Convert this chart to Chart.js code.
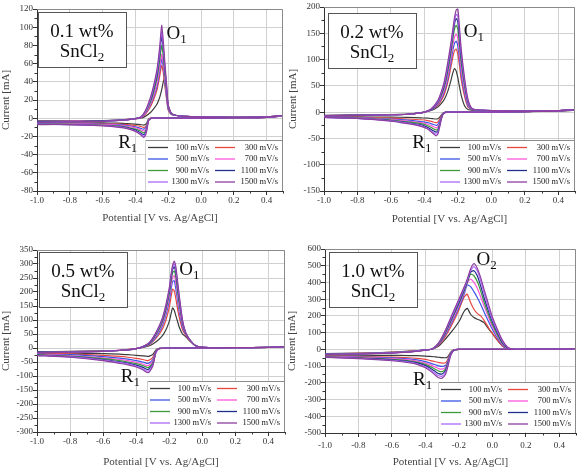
<!DOCTYPE html>
<html>
<head>
<meta charset="utf-8">
<script src="https://cdn.jsdelivr.net/npm/chart.js@4.4.1/dist/chart.umd.min.js"></script>
<style>
  html, body { margin: 0; padding: 0; background: #fff; }
  body { position: relative; width: 579px; height: 469px; overflow: hidden; }
  canvas { position: absolute; }
</style>
</head>
<body>
<canvas id="c1" width="290" height="235" style="left:0;top:0"></canvas>
<canvas id="c2" width="292" height="235" style="left:287px;top:0"></canvas>
<canvas id="c3" width="290" height="234" style="left:0;top:235px"></canvas>
<canvas id="c4" width="293" height="234" style="left:286px;top:235px"></canvas>
<script>
// scan rates, one curve each
const RATES = ['100 mV/s', '300 mV/s', '500 mV/s', '700 mV/s', '900 mV/s', '1100 mV/s', '1300 mV/s', '1500 mV/s'];
const COLORS = ['#3c3c3c', '#e8473f', '#3a55e6', '#ff55dd', '#3f9a3a', '#1f2f8a', '#ac68fa', '#8c3f9e'];

// ---- 0.1 wt% SnCl2 : potential [V] and current [mA]
const potUp01 = [-1.0, -0.8, -0.6, -0.5, -0.42, -0.37, -0.34, -0.31, -0.29, -0.27, -0.26, -0.25, -0.24, -0.23, -0.22, -0.21, -0.20, -0.18, -0.15, -0.10, 0.0, 0.2, 0.4, 0.5];
const potDn01 = [0.4, 0.2, 0.0, -0.2, -0.30, -0.32, -0.33, -0.34, -0.35, -0.37, -0.40, -0.45, -0.5, -0.6, -0.8, -1.0];
const curUp01 = [
  [-3, -3, -2.5, -2, -1, 0, 2, 6, 10, 15, 19, 24, 31, 40, 45, 30, 14, 5, 3, 2, 1.5, 1, 1.5, 2.5],
  [-3.5, -3.5, -3, -2, -1, 0.5, 4, 12, 20, 30, 38, 48, 58, 50, 35, 21, 9, 4, 3, 2, 1.5, 1, 1.5, 2.5],
  [-3.5, -3.5, -3, -2, -1, 0.5, 5, 14, 23, 34, 43, 54, 65, 56, 39, 24, 10, 4, 3, 2, 1.5, 1, 1.5, 2.5],
  [-4, -3.5, -3, -2.5, -1, 0.5, 5, 15, 25, 37, 47, 58, 70, 60, 42, 26, 11, 4.5, 3, 2, 1.5, 1, 1.5, 2.5],
  [-4, -4, -3, -2.5, -1, 1, 6, 17, 28, 42, 53, 66, 80, 68, 47, 29, 12, 4.5, 3, 2, 1.5, 1, 1.5, 3],
  [-4, -4, -3, -2.5, -1, 1, 7, 19, 31, 46, 58, 73, 90, 76, 53, 33, 13, 5, 3, 2, 1.5, 1, 1.5, 3],
  [-4.5, -4, -3.5, -2.5, -1, 1, 7, 20, 33, 49, 61, 77, 95, 80, 56, 35, 14, 5, 3, 2, 1.5, 1, 1.5, 3],
  [-4.5, -4, -3.5, -2.5, -1, 1, 8, 22, 35, 52, 65, 82, 102, 85, 60, 38, 15, 5, 3, 2, 1.5, 1, 1.5, 3]
];
const curDn01 = [
  [1, 0.5, 0, 0, 0, -1, -5, -7, -7.5, -7, -6.5, -6, -5.5, -5, -5, -5],
  [1, 0.5, 0, 0, 0, -1.5, -7, -9.5, -10, -9, -8, -7, -6.5, -6, -5.5, -5.5],
  [1, 0.5, 0, 0, 0, -2, -8, -11, -12, -11, -9.5, -8, -7, -6.5, -6, -5.5],
  [1, 0.5, 0, 0, 0, -2, -9, -13, -14, -12.5, -10.5, -9, -7.5, -7, -6, -6],
  [1, 0.5, 0, 0, 0, -2, -10, -15, -16, -14, -12, -10, -8.5, -7.5, -6.5, -6],
  [1, 0.5, 0, 0, 0, -2.5, -11, -16.5, -18, -16, -13, -10.5, -9, -8, -7, -6.5],
  [1, 0.5, 0, 0, 0, -2.5, -12, -18, -20, -17, -14, -11, -9.5, -8, -7, -6.5],
  [1, 0.5, 0, 0, 0, -3, -13, -19.5, -21, -18, -14.5, -11.5, -10, -8.5, -7, -7]
];

// ---- 0.2 wt% SnCl2
const potUp02 = [-1.0, -0.8, -0.6, -0.5, -0.44, -0.40, -0.36, -0.32, -0.30, -0.28, -0.26, -0.24, -0.23, -0.22, -0.21, -0.20, -0.19, -0.18, -0.16, -0.14, -0.12, -0.10, 0.0, 0.2, 0.4, 0.5];
const potDn02 = [0.4, 0.2, 0.0, -0.2, -0.27, -0.29, -0.30, -0.31, -0.32, -0.33, -0.35, -0.38, -0.42, -0.5, -0.6, -0.8, -1.0];
const curUp02 = [
  [-6, -5, -4.5, -3.5, -2, 0, 3, 10, 16, 25, 40, 62, 75, 83, 78, 65, 48, 32, 12, 5, 4, 3, 2, 2, 3, 4],
  [-6.5, -5.5, -5, -4, -2, 0, 4, 13, 22, 35, 57, 88, 105, 117, 120, 110, 88, 62, 30, 10, 6, 4, 2.5, 2, 3, 4.5],
  [-6.5, -5.5, -5, -4, -2, 0, 4, 15, 25, 40, 64, 98, 118, 131, 135, 126, 100, 72, 36, 12, 6, 4, 2.5, 2, 3, 4.5],
  [-7, -6, -5, -4, -2, 0, 5, 16, 28, 44, 70, 106, 128, 143, 148, 140, 112, 82, 42, 15, 7, 4.5, 3, 2, 3, 5],
  [-7, -6, -5, -4, -2, 0, 5, 18, 31, 49, 78, 116, 140, 158, 165, 158, 128, 94, 50, 18, 7, 4.5, 3, 2, 3, 5],
  [-7, -6, -5, -4, -2, 0, 5, 19, 34, 53, 84, 124, 148, 168, 178, 172, 140, 104, 56, 20, 8, 5, 3, 2, 3, 5],
  [-7, -6, -5, -4, -2, 0, 6, 20, 36, 56, 89, 129, 153, 174, 186, 182, 150, 112, 60, 22, 8, 5, 3, 2, 3, 5],
  [-7, -6, -5, -4, -2, 0, 6, 22, 38, 60, 95, 135, 158, 180, 194, 196, 160, 120, 65, 25, 8, 5, 3, 2, 3, 5]
];
const curDn02 = [
  [2, 1, 0, 0, 0, -2, -6, -10, -12.5, -13, -12.5, -11.5, -11, -10, -9.5, -9, -8.5],
  [2, 1, 0, 0, 0, -3, -8, -14, -19, -20, -18.5, -16, -14.5, -13, -11.5, -10, -9],
  [2, 1, 0, 0, 0, -3, -10, -18, -24, -25, -23, -20, -18, -15, -13, -10.5, -9],
  [2, 1, 0, 0, 0, -4, -11, -21, -28, -30, -27, -23, -20, -17, -14, -11, -9.5],
  [2, 1, 0, 0, 0, -4, -12, -24, -32, -34, -31, -26, -22, -18.5, -15, -11.5, -9.5],
  [2, 1, 0, 0, 0, -4.5, -13, -26, -36, -38, -35, -29, -24, -20, -16, -12, -10],
  [2, 1, 0, 0, 0, -5, -14, -28, -39, -42, -38, -31, -26, -21, -16.5, -12, -10],
  [2, 1, 0, 0, 0, -5, -15, -30, -42, -45, -40, -32, -27, -22, -17, -12, -10]
];

// ---- 0.5 wt% SnCl2
const potUp05 = [-1.0, -0.8, -0.6, -0.5, -0.44, -0.40, -0.36, -0.32, -0.29, -0.26, -0.24, -0.22, -0.20, -0.19, -0.18, -0.17, -0.16, -0.15, -0.14, -0.12, -0.10, -0.07, -0.04, 0.0, 0.2, 0.4, 0.5];
const potDn05 = [0.4, 0.2, 0.0, -0.2, -0.26, -0.28, -0.29, -0.30, -0.32, -0.33, -0.34, -0.36, -0.40, -0.45, -0.5, -0.6, -0.8, -1.0];
const curUp05 = [
  [-13, -12, -10, -8, -5, -2, 2, 8, 18, 32, 45, 65, 95, 120, 143, 135, 115, 95, 75, 50, 40, 22, 8, 2, 1, 2, 4],
  [-14, -13, -11, -8, -5, -2, 3, 12, 28, 50, 70, 100, 145, 180, 210, 205, 175, 140, 110, 65, 45, 23, 8, 2, 1, 2, 4],
  [-14, -13, -11, -8.5, -5.5, -2, 3, 14, 32, 58, 82, 118, 168, 205, 238, 240, 210, 170, 130, 75, 48, 24, 8, 2, 1, 2, 4.5],
  [-15, -14, -11.5, -8.5, -5.5, -2, 4, 16, 36, 64, 90, 130, 182, 222, 252, 258, 232, 190, 145, 82, 50, 24, 8, 2, 1, 2, 4.5],
  [-15, -14, -11.5, -9, -6, -2, 4, 17, 39, 69, 96, 139, 193, 236, 268, 275, 252, 205, 160, 88, 52, 25, 8, 2, 1, 2, 5],
  [-15, -14.5, -12, -9, -6, -2, 4, 18, 42, 74, 103, 146, 203, 247, 280, 290, 268, 222, 175, 94, 53, 25, 8, 2, 1, 2, 5],
  [-16, -15, -12, -9, -6, -2, 5, 19, 44, 77, 107, 151, 209, 254, 288, 300, 280, 232, 183, 97, 54, 25, 8, 2, 1, 2, 5],
  [-16, -15, -12, -9, -6, -2, 5, 20, 45, 80, 110, 155, 215, 260, 295, 310, 290, 240, 190, 100, 55, 25, 8, 2, 1, 2, 5]
];
const curDn05 = [
  [2, 1, 0, 0, -1, -6, -15, -23, -29, -30, -29, -28, -26, -24, -22, -20, -18, -17],
  [2, 1, 0, 0, -1, -9, -22, -34, -43, -45, -44, -41, -37, -33, -30, -26, -21, -19],
  [2, 1, 0, 0, -1.5, -10, -27, -42, -53, -55, -54, -50, -45, -40, -36, -31, -24, -21],
  [2, 1, 0, 0, -1.5, -11, -30, -47, -60, -63, -62, -57, -51, -45, -41, -35, -27, -23],
  [2, 1, 0, 0, -1.5, -12, -33, -53, -67, -70, -68, -63, -56, -50, -45, -38, -29, -24],
  [2, 1, 0, 0, -2, -13, -36, -58, -73, -77, -75, -69, -61, -54, -49, -41, -31, -25],
  [2, 1, 0, 0, -2, -14, -38, -62, -79, -83, -81, -74, -65, -57, -52, -43, -32, -26],
  [2, 1, 0, 0, -2, -15, -40, -65, -85, -88, -86, -78, -68, -60, -55, -45, -33, -27]
];

// ---- 1.0 wt% SnCl2
const potUp10 = [-1.0, -0.8, -0.6, -0.5, -0.44, -0.40, -0.36, -0.32, -0.28, -0.24, -0.20, -0.17, -0.15, -0.13, -0.11, -0.09, -0.07, -0.05, -0.02, 0.0, 0.03, 0.06, 0.09, 0.12, 0.2, 0.4, 0.5];
const potDn10 = [0.4, 0.2, 0.0, -0.2, -0.23, -0.25, -0.26, -0.27, -0.28, -0.30, -0.32, -0.34, -0.37, -0.40, -0.45, -0.5, -0.6, -0.8, -1.0];
const curUp10 = [
  [-25, -23, -17, -11, -7, -3, 1, 20, 62, 110, 165, 225, 245, 210, 190, 180, 172, 160, 120, 95, 55, 20, 4, 1, 1, 2, 4],
  [-26, -24, -18, -12, -7, -3, 1, 26, 78, 150, 235, 310, 330, 280, 240, 215, 200, 175, 125, 95, 55, 20, 4, 1, 1, 2, 4],
  [-27, -25, -19, -13, -8, -3, 1, 30, 88, 165, 250, 325, 385, 375, 345, 310, 270, 225, 160, 120, 68, 25, 5, 1, 1, 2, 4],
  [-28, -26, -20, -14, -8, -4, 2, 32, 95, 175, 262, 338, 395, 420, 400, 365, 315, 260, 185, 135, 78, 30, 6, 1, 1, 2, 4],
  [-28, -26, -20, -14, -9, -4, 2, 34, 100, 185, 272, 345, 400, 450, 440, 405, 350, 285, 200, 150, 88, 36, 8, 1, 1, 2, 4],
  [-29, -27, -21, -15, -9, -4, 2, 36, 105, 192, 280, 352, 405, 462, 470, 440, 380, 310, 220, 165, 100, 42, 10, 1, 1, 2, 5],
  [-30, -27, -21, -15, -9, -4, 2, 38, 110, 200, 290, 360, 412, 470, 495, 470, 410, 340, 240, 180, 110, 48, 12, 2, 1, 2, 5],
  [-30, -28, -22, -16, -10, -4, 2, 40, 115, 210, 300, 370, 420, 480, 512, 485, 430, 360, 260, 195, 120, 55, 15, 2, 1, 2, 5]
];
const curDn10 = [
  [2, 1, 0, 0, -2, -18, -35, -47, -50, -49, -47, -45, -42, -40, -38, -37, -36, -35, -35],
  [2, 1, 0, 0, -3, -22, -45, -68, -80, -82, -79, -74, -67, -60, -54, -50, -46, -43, -40],
  [2, 1, 0, 0, -3, -25, -50, -78, -96, -102, -99, -92, -82, -73, -63, -57, -51, -46, -42],
  [2, 1, 0, 0, -4, -28, -55, -85, -108, -118, -115, -106, -93, -82, -70, -63, -55, -48, -43],
  [2, 1, 0, 0, -4, -30, -60, -92, -118, -133, -130, -120, -103, -90, -76, -68, -59, -50, -45],
  [2, 1, 0, 0, -4, -32, -65, -100, -128, -147, -145, -133, -113, -97, -81, -72, -62, -52, -46],
  [2, 1, 0, 0, -5, -35, -72, -110, -140, -160, -158, -145, -122, -104, -86, -76, -65, -53, -47],
  [2, 1, 0, 0, -5, -40, -80, -120, -150, -172, -170, -155, -130, -110, -90, -80, -68, -55, -48]
];

const SERIF = '"Liberation Serif", "Times New Roman", serif';
Chart.defaults.font.family = SERIF;

function subText(ctx, x, y, main, sub, size) {
  ctx.font = size + 'px ' + SERIF;
  ctx.fillText(main, x, y);
  const w = ctx.measureText(main).width;
  ctx.font = Math.round(size * 0.68) + 'px ' + SERIF;
  ctx.fillText(sub, x + w, y + size * 0.3);
}

// frame, minor ticks, sample box, peak labels and the 2-column legend
const decor = {
  id: 'decor',
  afterDraw(chart, args, o) {
    const { ctx, chartArea: a, scales: { x, y } } = chart;
    ctx.save();
    ctx.lineWidth = 1;

    // minor ticks
    ctx.strokeStyle = '#333';
    ctx.beginPath();
    for (let i = 0; ; i++) {
      const v = x.min + (2 * i + 1) * o.minorX;
      if (v > x.max + 1e-9) break;
      const px = Math.round(x.getPixelForValue(v)) + 0.5;
      ctx.moveTo(px, a.bottom); ctx.lineTo(px, a.bottom + 2.5);
    }
    for (let i = 0; ; i++) {
      const v = y.min + (2 * i + 1) * o.minorY;
      if (v > y.max + 1e-9) break;
      const py = Math.round(y.getPixelForValue(v)) + 0.5;
      ctx.moveTo(a.left, py); ctx.lineTo(a.left - 2.5, py);
    }
    ctx.stroke();

    // legend box
    const L = a.right - 138, T = a.bottom - 51;
    ctx.fillStyle = '#fff';
    ctx.fillRect(L, T, a.right - L, a.bottom - T - 1);
    ctx.strokeStyle = '#8c8c8c';
    ctx.beginPath(); ctx.moveTo(L, T + 0.5); ctx.lineTo(a.right, T + 0.5); ctx.stroke();
    ctx.strokeStyle = '#d0d0d0';
    ctx.beginPath(); ctx.moveTo(L + 0.5, T); ctx.lineTo(L + 0.5, a.bottom); ctx.stroke();
    ctx.font = '8.5px ' + SERIF;
    ctx.textAlign = 'right';
    ctx.textBaseline = 'middle';
    RATES.forEach((name, k) => {
      const col = k % 2, row = k >> 1;
      const ly = T + 7.5 + row * 11.5;
      const lx = L + 3 + col * 67;
      ctx.strokeStyle = COLORS[k];
      ctx.lineWidth = 1.3;
      ctx.beginPath(); ctx.moveTo(lx, ly); ctx.lineTo(lx + 20, ly); ctx.stroke();
      ctx.fillStyle = '#222';
      ctx.fillText(name, lx + (col ? 63 : 61), ly);
    });
    ctx.lineWidth = 1;

    // upper and right frame
    ctx.strokeStyle = '#8a8a8a';
    ctx.beginPath();
    ctx.moveTo(a.left, a.top + 0.5); ctx.lineTo(a.right - 0.5, a.top + 0.5); ctx.lineTo(a.right - 0.5, a.bottom);
    ctx.stroke();

    // sample label box
    const bx = Math.round(a.left + o.box[0]), by = Math.round(a.top + o.box[1]);
    ctx.fillStyle = '#fff';
    ctx.fillRect(bx, by, 88, 55);
    ctx.strokeStyle = '#555';
    ctx.strokeRect(bx + 0.5, by + 0.5, 88, 55);
    ctx.fillStyle = '#111';
    ctx.textAlign = 'center';
    ctx.font = '19px ' + SERIF;
    ctx.fillText(o.label, bx + 44, by + 20);
    ctx.textAlign = 'left';
    const w1 = ctx.measureText('SnCl').width;
    ctx.font = '13px ' + SERIF;
    const w2 = ctx.measureText('2').width;
    subText(ctx, bx + 44 - (w1 + w2) / 2, by + 40, 'SnCl', '2', 19);

    // peak labels
    o.marks.forEach(m => {
      subText(ctx, x.getPixelForValue(m.x), y.getPixelForValue(m.y), m.t, m.s, 19);
    });
    ctx.restore();
  }
};

function makePanel(id, cfg) {
  const datasets = RATES.map((name, k) => ({
    label: name,
    data: cfg.up.map((v, j) => ({ x: v, y: cfg.curUp[k][j] }))
      .concat(cfg.dn.map((v, j) => ({ x: v, y: cfg.curDn[k][j] }))),
    borderColor: COLORS[k],
    borderWidth: 1.2,
    pointRadius: 0,
    showLine: true,
    tension: 0.2,
    fill: false,
    order: 7 - k
  }));
  const tickFont = { family: SERIF, size: 9 };
  const titleFont = { family: SERIF, size: 11 };
  new Chart(document.getElementById(id), {
    type: 'scatter',
    data: { datasets },
    options: {
      responsive: false,
      animation: false,
      events: [],
      layout: { padding: { top: cfg.pad[0], right: cfg.pad[1], bottom: 0, left: 0 } },
      plugins: {
        legend: { display: false },
        tooltip: { enabled: false },
        decor: { label: cfg.label, box: cfg.box, marks: cfg.marks, minorX: 0.1, minorY: cfg.step / 2 }
      },
      scales: {
        x: {
          type: 'linear', min: -1, max: 0.5,
          afterFit: s => { s.height = cfg.xH; },
          ticks: {
            stepSize: 0.2, includeBounds: false, maxRotation: 0, autoSkip: false,
            padding: cfg.xTickPad, color: '#333', font: tickFont,
            callback: v => (Math.abs(v) < 1e-9 ? '0.0' : v.toFixed(1))
          },
          grid: { color: '#d0d0d0', tickColor: '#333', tickLength: 4 },
          border: { color: '#333' },
          title: {
            display: true, text: 'Potential [V vs. Ag/AgCl]', color: '#444', font: titleFont,
            padding: { top: 0, bottom: cfg.xTitlePad }
          }
        },
        y: {
          type: 'linear', min: cfg.yMin, max: cfg.yMax,
          afterFit: s => { s.width = cfg.yW; },
          ticks: { stepSize: cfg.step, autoSkip: false, padding: 0, color: '#333', font: tickFont },
          grid: { color: '#d0d0d0', tickColor: '#333', tickLength: 4 },
          border: { color: '#333' },
          title: {
            display: true, text: 'Current [mA]', color: '#444', font: titleFont,
            padding: { top: 0, bottom: 0 }
          }
        }
      }
    },
    plugins: [decor]
  });
}

makePanel('c1', {
  label: '0.1 wt%', up: potUp01, dn: potDn01, curUp: curUp01, curDn: curDn01,
  yMin: -80, yMax: 120, step: 20,
  pad: [9, 7], yW: 37, xH: 44, xTickPad: 0, xTitlePad: 10,
  box: [1, 3],
  marks: [{ x: -0.21, y: 93, t: 'O', s: '1' }, { x: -0.505, y: -27, t: 'R', s: '1' }]
});
makePanel('c2', {
  label: '0.2 wt%', up: potUp02, dn: potDn02, curUp: curUp02, curDn: curDn02,
  yMin: -150, yMax: 200, step: 50,
  pad: [7, 4], yW: 37, xH: 44, xTickPad: 0, xTitlePad: 9,
  box: [4, 6],
  marks: [{ x: -0.165, y: 153, t: 'O', s: '1' }, { x: -0.472, y: -59, t: 'R', s: '1' }]
});
makePanel('c3', {
  label: '0.5 wt%', up: potUp05, dn: potDn05, curUp: curUp05, curDn: curDn05,
  yMin: -300, yMax: 350, step: 50,
  pad: [15, 5], yW: 37, xH: 37, xTickPad: 0, xTitlePad: 0,
  box: [2, 2],
  marks: [{ x: -0.14, y: 278, t: 'O', s: '1' }, { x: -0.493, y: -104, t: 'R', s: '1' }]
});
makePanel('c4', {
  label: '1.0 wt%', up: potUp10, dn: potDn10, curUp: curUp10, curDn: curDn10,
  yMin: -500, yMax: 600, step: 100,
  pad: [14, 3], yW: 39, xH: 36, xTickPad: 3, xTitlePad: 0,
  box: [4, 3],
  marks: [{ x: -0.094, y: 536, t: 'O', s: '2' }, { x: -0.474, y: -181, t: 'R', s: '1' }]
});
</script>
</body>
</html>
